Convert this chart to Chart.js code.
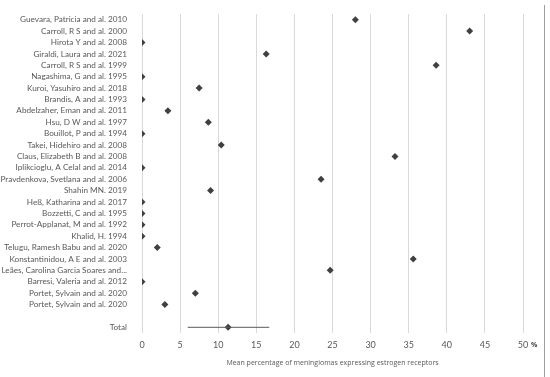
<!DOCTYPE html>
<html>
<head>
<meta charset="utf-8">
<script src="https://cdn.jsdelivr.net/npm/chart.js@4/dist/chart.umd.min.js"></script>
<style>
  html, body { margin: 0; padding: 0; background: #fff; }
  #wrap { position: relative; width: 550px; height: 377px; }
</style>
</head>
<body>
<div id="wrap"><canvas id="chart" width="550" height="377"></canvas></div>
<script>
// Studies, top to bottom, then a blank row and the pooled total
const studies = [
    'Guevara, Patricia and al. 2010',
    'Carroll, R S and al. 2000',
    'Hirota Y and al. 2008',
    'Giraldi, Laura and al. 2021',
    'Carroll, R S and al. 1999',
    'Nagashima, G and al. 1995',
    'Kuroi, Yasuhiro and al. 2018',
    'Brandis, A and al. 1993',
    'Abdelzaher, Eman and al. 2011',
    'Hsu, D W and al. 1997',
    'Bouillot, P and al. 1994',
    'Takei, Hidehiro and al. 2008',
    'Claus, Elizabeth B and al. 2008',
    'Iplikcioglu, A Celal and al. 2014',
    'Pravdenkova, Svetlana and al. 2006',
    'Shahin MN. 2019',
    'Heß, Katharina and al. 2017',
    'Bozzetti, C and al. 1995',
    'Perrot-Applanat, M and al. 1992',
    'Khalid, H. 1994',
    'Telugu, Ramesh Babu and al. 2020',
    'Konstantinidou, A E and al. 2003',
    'Leães, Carolina Garcia Soares and...',
    'Barresi, Valeria and al. 2012',
    'Portet, Sylvain and al. 2020',
    'Portet, Sylvain and al. 2020'
];
const studyValues = [28, 43, 0, 16.3, 38.6, 0, 7.5, 0, 3.4, 8.7, 0, 10.4, 33.2, 0, 23.5, 9, 0, 0, 0, 0, 2, 35.6, 24.7, 0, 7, 3];

const totalLabel = 'Total';
const totalMean = 11.3;
const totalLow = 6;
const totalHigh = 16.7;

const xTicks = [0, 5, 10, 15, 20, 25, 30, 35, 40, 45, 50];
const xTitle = 'Mean percentage of meningiomas expressing estrogen receptors';

// row positions: one per study, a blank row, then the total
const rowLabels = studies.concat(['', totalLabel]);
const totalIndex = rowLabels.length - 1;

const pointData = studyValues.map((v, i) => ({ x: v, y: i }));
pointData.push({ x: totalMean, y: totalIndex });

const labelFont = { family: "Lato, sans-serif", size: 8.2 };

// "%" after the last tick and the panel border on the right
const extras = {
    id: 'extras',
    afterDraw(chart) {
        const ctx = chart.ctx;
        const x = chart.scales.x;
        ctx.save();
        ctx.fillStyle = '#404040';
        ctx.font = "bold 7px 'Open Sans', sans-serif";
        ctx.textBaseline = 'middle';
        ctx.fillText('%', x.right + 8, 345);
        ctx.strokeStyle = '#a0a0a0';
        ctx.lineWidth = 1;
        ctx.beginPath();
        ctx.moveTo(544.5, 5);
        ctx.lineTo(544.5, 377);
        ctx.stroke();
        ctx.restore();
    }
};

new Chart(document.getElementById('chart'), {
    type: 'scatter',
    data: {
        datasets: [
            {
                label: 'Total range',
                type: 'line',
                data: [{ x: totalLow, y: totalIndex }, { x: totalHigh, y: totalIndex }],
                borderColor: '#595959',
                borderWidth: 1,
                pointRadius: 0
            },
            {
                label: 'Mean',
                data: pointData,
                pointStyle: 'rectRot',
                pointRadius: 3.5,
                backgroundColor: '#404040',
                borderColor: '#404040',
                borderWidth: 0,
                clip: 0
            }
        ]
    },
    plugins: [extras],
    options: {
        responsive: false,
        animation: false,
        layout: { padding: { top: 14, right: 27, bottom: 0, left: 0 } },
        plugins: { legend: { display: false }, tooltip: { enabled: false } },
        scales: {
            x: {
                type: 'linear',
                min: 0,
                max: 50,
                afterBuildTicks: s => { s.ticks = xTicks.map(v => ({ value: v })); },
                afterFit: s => { s.height = 44; },
                grid: { color: '#d9d9d9', drawTicks: false },
                border: { display: false },
                ticks: { color: '#595959', font: { family: "Lato, sans-serif", size: 9 }, padding: 7 },
                title: {
                    display: true,
                    text: xTitle,
                    color: '#595959',
                    font: { family: "'Open Sans', sans-serif", size: 7 },
                    padding: { top: 0, bottom: 10 }
                }
            },
            y: {
                type: 'linear',
                min: -0.5,
                max: rowLabels.length - 0.5,
                reverse: true,
                afterBuildTicks: s => { s.ticks = rowLabels.map((l, i) => ({ value: i })); },
                afterFit: s => { s.width = 142; },
                grid: { display: false },
                border: { display: false },
                ticks: {
                    color: '#595959',
                    font: labelFont,
                    padding: 7,
                    autoSkip: false,
                    callback: v => rowLabels[v]
                }
            }
        }
    }
});
</script>
</body>
</html>
